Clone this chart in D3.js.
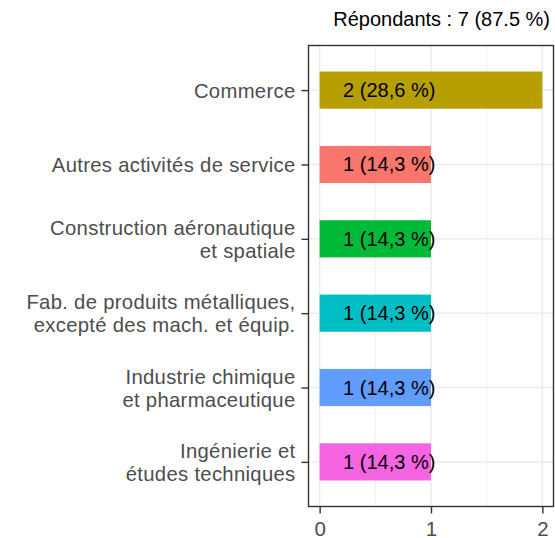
<!DOCTYPE html>
<html>
<head>
<meta charset="utf-8">
<script src="https://cdn.jsdelivr.net/npm/d3@7"></script>
<style>
  body { margin: 0; background: #fff; }
  svg { display: block; font-family: "Liberation Sans", Arial, sans-serif; }
</style>
</head>
<body>
<svg id="chart" width="555" height="538"></svg>
<script>
// ---- data ----
const categories = [
  "Commerce",
  "Autres activités de service",
  "Construction aéronautique\net spatiale",
  "Fab. de produits métalliques,\nexcepté des mach. et équip.",
  "Industrie chimique\net pharmaceutique",
  "Ingénierie et\nétudes techniques"
];
const counts = [2, 1, 1, 1, 1, 1];
const labels = ["2 (28,6 %)", "1 (14,3 %)", "1 (14,3 %)", "1 (14,3 %)", "1 (14,3 %)", "1 (14,3 %)"];
const colors = ["#B79F00", "#F8766D", "#00BA38", "#00BFC4", "#619CFF", "#F564E3"];
const xTicks = [0, 1, 2];
const xMinorTicks = [0.5, 1.5];
const title = "Répondants : 7 (87.5 %)";

// ---- layout ----
const FONT = "'Liberation Sans', Arial, sans-serif";
const svg = d3.select("#chart");
const panel = { left: 308.5, right: 553.5, top: 45.5, bottom: 506.5 };
const labelPos = 0.625; // label centre, in data units

const x = d3.scaleLinear().domain([-0.1, 2.1]).range([panel.left, panel.right]);
const y = d3.scalePoint().domain(categories).range([panel.top, panel.bottom]).padding(0.6);
const barH = y.step() * 0.5;

const data = categories.map((c, i) => ({ cat: c, n: counts[i], label: labels[i], color: colors[i] }));

// grid
const g = svg.append("g");
g.selectAll(".minor").data(xMinorTicks).join("line")
  .attr("x1", d => x(d)).attr("x2", d => x(d))
  .attr("y1", panel.top).attr("y2", panel.bottom)
  .attr("stroke", "#EBEBEB").attr("stroke-width", 0.8);
g.selectAll(".majx").data(xTicks).join("line")
  .attr("x1", d => x(d)).attr("x2", d => x(d))
  .attr("y1", panel.top).attr("y2", panel.bottom)
  .attr("stroke", "#EBEBEB").attr("stroke-width", 1.5);
g.selectAll(".majy").data(categories).join("line")
  .attr("x1", panel.left).attr("x2", panel.right)
  .attr("y1", d => y(d)).attr("y2", d => y(d))
  .attr("stroke", "#EBEBEB").attr("stroke-width", 1.5);

// bars
svg.append("g").selectAll("rect").data(data).join("rect")
  .attr("x", x(0))
  .attr("width", d => x(d.n) - x(0))
  .attr("y", d => y(d.cat) - barH / 2)
  .attr("height", barH)
  .attr("fill", d => d.color);

// bar labels
svg.append("g").selectAll("text").data(data).join("text")
  .attr("x", x(labelPos))
  .attr("y", d => y(d.cat) + 7)
  .attr("text-anchor", "middle")
  .attr("font-size", 20)
  .attr("fill", "#000")
  .text(d => d.label);

// panel border
svg.append("rect")
  .attr("x", panel.left).attr("y", panel.top)
  .attr("width", panel.right - panel.left).attr("height", panel.bottom - panel.top)
  .attr("fill", "none").attr("stroke", "#333333").attr("stroke-width", 1.4);

// y axis
const yAxis = d3.axisLeft(y).tickSize(7).tickPadding(5).tickFormat("");
const ya = svg.append("g").attr("transform", `translate(${panel.left},0)`).call(yAxis)
  .attr("font-family", FONT);
ya.select(".domain").remove();
ya.selectAll(".tick line").attr("stroke", "#333333").attr("stroke-width", 1.4);
ya.selectAll(".tick").each(function(d) {
  const lines = d.split("\n");
  const lh = 23;
  const t = d3.select(this).append("text")
    .attr("x", -13)
    .attr("text-anchor", "end")
    .attr("fill", "#4D4D4D")
    .attr("font-family", FONT)
    .attr("font-size", 20.3)
    .attr("letter-spacing", 0.3);
  lines.forEach((ln, i) => {
    t.append("tspan").attr("x", -13)
      .attr("y", 7 + (i - (lines.length - 1) / 2) * lh)
      .text(ln);
  });
});

// x axis
const xAxis = d3.axisBottom(x).tickValues(xTicks).tickSize(7).tickPadding(6).tickFormat(d3.format("d"));
const xa = svg.append("g").attr("transform", `translate(0,${panel.bottom})`).call(xAxis)
  .attr("font-family", FONT);
xa.select(".domain").remove();
xa.selectAll(".tick line").attr("stroke", "#333333").attr("stroke-width", 1.4);
xa.selectAll(".tick text").attr("fill", "#4D4D4D").attr("font-size", 20.5)
  .attr("dy", null).attr("y", 29);

// title
svg.append("text")
  .attr("x", 550).attr("y", 26)
  .attr("text-anchor", "end")
  .attr("font-size", 20)
  .attr("fill", "#000")
  .text(title);
</script>
</body>
</html>
